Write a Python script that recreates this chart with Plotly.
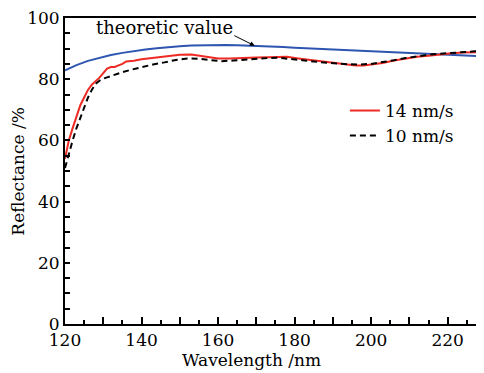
import plotly.graph_objects as go

# ---- data ----
red_x = [120, 121, 122, 123, 124, 125, 126, 127, 128, 129, 130, 131, 132, 133, 134, 135, 136, 138, 140,
         142, 144, 146, 148, 150, 153, 155, 158, 160, 163, 166, 170, 173, 176, 178, 181, 184, 187, 190,
         193, 196, 198, 200, 203, 206, 209, 212, 215, 218, 221, 224, 227, 230]
red_y = [54, 60, 64, 68, 71.5, 74, 76.5, 78.2, 79.3, 80.5, 82, 83.5, 84, 84, 84.5, 85, 85.8, 86, 86.5,
         86.8, 87.2, 87.4, 87.8, 88.0, 88.1, 87.7, 87.0, 86.8, 86.8, 87.0, 87.1, 87.2, 87.4, 87.3, 86.8,
         86.3, 85.8, 85.3, 84.8, 84.5, 84.5, 84.8, 85.3, 86.1, 86.8, 87.3, 87.7, 88.2, 88.5, 88.7, 88.8, 88.9]

blk_x = [120, 121, 122, 123, 124, 125, 126, 127, 128, 129, 130, 131, 133, 135, 137, 140, 143, 146, 149,
         152, 155, 158, 161, 164, 167, 170, 173, 176, 179, 182, 185, 188, 191, 194, 197, 200, 203, 206,
         209, 212, 215, 218, 221, 224, 227, 230]
blk_y = [51, 56, 60, 64, 67.5, 71, 74, 76.5, 78.5, 79.5, 80.2, 80.6, 81.5, 82.3, 83, 84, 84.8, 85.5, 86.3,
         86.8, 86.7, 86.2, 85.9, 86.1, 86.4, 86.6, 86.9, 87.0, 86.7, 86.2, 85.8, 85.4, 85.1, 84.9, 84.8,
         85.0, 85.5, 86.2, 86.9, 87.5, 88.0, 88.3, 88.6, 88.9, 89.1, 89.2]

theo_x = [120, 123, 126, 129, 132, 135, 138, 141, 144, 147, 150, 153, 156, 159, 162, 165, 168, 171, 174,
          177, 180, 185, 190, 195, 200, 205, 210, 215, 220, 225, 230]
theo_y = [82.9, 84.6, 86.0, 87.0, 87.9, 88.6, 89.2, 89.7, 90.1, 90.5, 90.8, 91.0, 91.1, 91.2, 91.2, 91.1,
          91.0, 90.9, 90.7, 90.5, 90.3, 90.0, 89.7, 89.3, 89.0, 88.7, 88.4, 88.1, 87.9, 87.6, 87.4]

x_ticks = [120, 130, 140, 150, 160, 170, 180, 190, 200, 210, 220, 230]
x_labels = ["120", "", "140", "", "160", "", "180", "", "200", "", "220", ""]
y_ticks = list(range(0, 101, 5))
y_labels = [str(v) if v % 20 == 0 else "" for v in y_ticks]

FONT = "'DejaVu Serif', serif"
FS = 17

fig = go.Figure()
fig.add_trace(go.Scatter(x=theo_x, y=theo_y, mode="lines", line=dict(color="#2e56b0", width=2),
                         showlegend=False))
fig.add_trace(go.Scatter(x=red_x, y=red_y, mode="lines", name="14 nm/s",
                         line=dict(color="#ee2a24", width=2)))
fig.add_trace(go.Scatter(x=blk_x, y=blk_y, mode="lines", name="10 nm/s",
                         line=dict(color="black", width=2, dash="6px,4px")))

fig.add_annotation(x=146.0, y=96.8, text="theoretic value", showarrow=False,
                   font=dict(family=FONT, size=18, color="black"))
fig.add_annotation(x=169.6, y=90.9, ax=-22, ay=-11, text="", showarrow=True,
                   arrowhead=2, arrowsize=1, arrowwidth=1, arrowcolor="black")
fig.add_annotation(xref="paper", yref="paper", x=0.446, y=-0.117, text="Wavelength /nm",
                   showarrow=False, xanchor="center", yanchor="middle",
                   font=dict(family=FONT, size=FS, color="black"))
fig.add_annotation(xref="paper", yref="paper", x=-0.113, y=0.5, text="Reflectance /%",
                   showarrow=False, textangle=-90, xanchor="center", yanchor="middle",
                   font=dict(family=FONT, size=FS, color="black"))

fig.update_layout(
    width=476, height=365,
    margin=dict(l=57, r=0, t=7, b=49),
    paper_bgcolor="white", plot_bgcolor="white",
    font=dict(family=FONT, size=FS, color="black"),
    legend=dict(x=0.668, y=0.755, xanchor="left", yanchor="top", bgcolor="rgba(0,0,0,0)",
                font=dict(family=FONT, size=FS), tracegroupgap=0, itemwidth=30),
    xaxis=dict(range=[120, 229.5], tickmode="array", tickvals=x_ticks, ticktext=x_labels,
               ticks="inside", ticklen=7, tickwidth=1.5, tickcolor="black",
               minor=dict(tickmode="array", tickvals=[v + 5 for v in x_ticks], ticks="inside",
                          ticklen=4, tickwidth=1.5, tickcolor="black"),
               showline=True, linecolor="black", linewidth=2, mirror=True,
               showgrid=False, zeroline=False, ticklabeloverflow="allow"),
    yaxis=dict(range=[0, 100], tickmode="array", tickvals=y_ticks, ticktext=y_labels,
               ticks="inside", ticklen=5, tickwidth=1.5, tickcolor="black",
               showline=True, linecolor="black", linewidth=2, mirror=False,
               showgrid=False, zeroline=False, ticklabeloverflow="allow"),
)

fig.write_html("out.html")
